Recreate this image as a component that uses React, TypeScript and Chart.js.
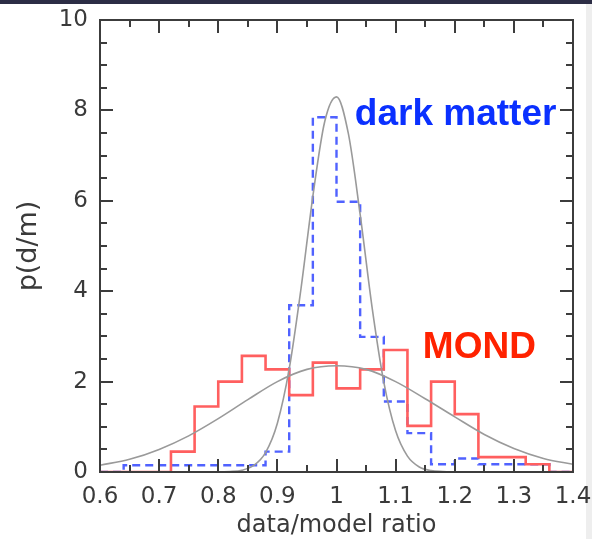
import React, { useEffect, useRef } from "react";
import { Chart, registerables } from "chart.js";

Chart.register(...registerables);

// Histogram bin edges (bin width 0.04) on the data/model ratio axis
const binEdges = [
  0.6, 0.64, 0.68, 0.72, 0.76, 0.8, 0.84, 0.88, 0.92, 0.96, 1.0,
  1.04, 1.08, 1.12, 1.16, 1.2, 1.24, 1.28, 1.32, 1.36, 1.4,
];

// Probability density per bin
const mondHist = [
  0, 0, 0, 0.45, 1.45, 2.0, 2.57, 2.27, 1.7, 2.42,
  1.85, 2.27, 2.7, 1.02, 2.0, 1.28, 0.33, 0.33, 0.17, 0,
];
const darkMatterHist = [
  0, 0.15, 0.15, 0.15, 0.15, 0.15, 0.15, 0.45, 3.69, 7.85,
  5.98, 2.99, 1.56, 0.86, 0.17, 0.3, 0.17, 0.17, 0.17, 0,
];

// Narrow model curve
const narrowX = [
  0.6, 0.8, 0.82, 0.84, 0.86, 0.88, 0.9, 0.92, 0.94, 0.96, 0.98, 1.0,
  1.02, 1.04, 1.06, 1.08, 1.1, 1.12, 1.14, 1.16, 1.18, 1.2, 1.4,
];
const narrowY = [
  0, 0, 0.01, 0.04, 0.145, 0.43, 1.08, 2.28, 4.06, 6.1, 7.75, 8.3,
  7.49, 5.7, 3.66, 1.99, 0.91, 0.35, 0.11, 0.03, 0.01, 0, 0,
];

// Broad model curve
const wideX = [
  0.6, 0.65, 0.7, 0.75, 0.8, 0.85, 0.9, 0.95, 1.0,
  1.05, 1.1, 1.15, 1.2, 1.25, 1.3, 1.35, 1.4,
];
const wideY = [
  0.15, 0.28, 0.5, 0.8, 1.18, 1.6, 2.0, 2.27, 2.35,
  2.27, 2.0, 1.62, 1.22, 0.83, 0.52, 0.3, 0.17,
];

const xTickStep = 0.1;
const xMinorStep = 0.05;
const yTickStep = 2;
const yMinorStep = 0.5;

const TEXT_COLOR = "#3a3a3a";
const AXIS_COLOR = "#3c3c3c";

// Each bin value starts at its left edge; the last edge closes the final bin
const stepPoints = (hist: number[]) =>
  binEdges.map((x, i) => ({ x, y: i < hist.length ? hist[i] : hist[hist.length - 1] }));

const curvePoints = (xs: number[], ys: number[]) => xs.map((x, i) => ({ x, y: ys[i] }));

const pageDecor = {
  id: "pageDecor",
  beforeDraw(chart: any) {
    const { ctx, width, height } = chart;
    ctx.save();
    ctx.fillStyle = "#ffffff";
    ctx.fillRect(0, 0, width, height);
    ctx.fillStyle = "#eeeeee";
    ctx.fillRect(586, 0, width - 586, height);
    ctx.fillStyle = "#2c2d45";
    ctx.fillRect(0, 0, width, 4);
    ctx.restore();
  },
};

const frameAndTicks = {
  id: "frameAndTicks",
  afterDatasetsDraw(chart: any) {
    const { ctx, chartArea, scales } = chart;
    const { left, right, top, bottom } = chartArea;
    const xs = scales.x;
    const ys = scales.y;
    ctx.save();
    ctx.strokeStyle = AXIS_COLOR;
    ctx.lineWidth = 2;
    ctx.strokeRect(left, top, right - left, bottom - top);
    ctx.beginPath();
    const nx = Math.round((xs.max - xs.min) / xMinorStep);
    for (let i = 1; i < nx; i++) {
      const v = xs.min + i * xMinorStep;
      const len = i % Math.round(xTickStep / xMinorStep) === 0 ? 13 : 7;
      const px = Math.round(xs.getPixelForValue(v));
      ctx.moveTo(px, bottom);
      ctx.lineTo(px, bottom - len);
      ctx.moveTo(px, top);
      ctx.lineTo(px, top + len);
    }
    const ny = Math.round((ys.max - ys.min) / yMinorStep);
    for (let i = 1; i < ny; i++) {
      const v = ys.min + i * yMinorStep;
      const len = i % Math.round(yTickStep / yMinorStep) === 0 ? 13 : 7;
      const py = Math.round(ys.getPixelForValue(v));
      ctx.moveTo(left, py);
      ctx.lineTo(left + len, py);
      ctx.moveTo(right, py);
      ctx.lineTo(right - len, py);
    }
    ctx.stroke();
    ctx.restore();
  },
  afterDraw(chart: any) {
    const { ctx, scales } = chart;
    ctx.save();
    ctx.textAlign = "left";
    ctx.textBaseline = "alphabetic";
    ctx.font = 'bold 37px "Liberation Sans", Arial, sans-serif';
    ctx.fillStyle = "#0a30ff";
    ctx.fillText("dark matter", scales.x.getPixelForValue(1.031), scales.y.getPixelForValue(7.68));
    ctx.fillStyle = "#ff2200";
    ctx.fillText("MOND", scales.x.getPixelForValue(1.146), scales.y.getPixelForValue(2.52));
    ctx.restore();
  },
};

export default function App() {
  const canvasRef = useRef<HTMLCanvasElement | null>(null);

  useEffect(() => {
    if (!canvasRef.current) return;
    const chart = new Chart(canvasRef.current, {
      type: "line",
      data: {
        datasets: [
          {
            data: curvePoints(wideX, wideY),
            borderColor: "#9a9a9a",
            borderWidth: 1.6,
            pointRadius: 0,
            cubicInterpolationMode: "monotone",
            fill: false,
          },
          {
            data: curvePoints(narrowX, narrowY),
            borderColor: "#9a9a9a",
            borderWidth: 1.6,
            pointRadius: 0,
            cubicInterpolationMode: "monotone",
            fill: false,
          },
          {
            data: stepPoints(mondHist),
            borderColor: "#ff5f5f",
            borderWidth: 2.6,
            pointRadius: 0,
            stepped: "before",
            fill: false,
          },
          {
            data: stepPoints(darkMatterHist),
            borderColor: "#5062ff",
            borderWidth: 2.4,
            borderDash: [8, 5],
            pointRadius: 0,
            stepped: "before",
            fill: false,
          },
        ],
      } as any,
      options: {
        responsive: false,
        animation: false,
        layout: { padding: { top: 20, right: 19, left: 0, bottom: 0 } },
        plugins: { legend: { display: false }, tooltip: { enabled: false } },
        scales: {
          x: {
            type: "linear",
            min: 0.6,
            max: 1.4,
            grid: { display: false, drawTicks: false },
            border: { display: false },
            ticks: {
              stepSize: xTickStep,
              padding: 11,
              autoSkip: false,
              maxRotation: 0,
              color: TEXT_COLOR,
              font: { family: '"DejaVu Sans"', size: 23 },
              callback: (v: any) => String(Number(Number(v).toFixed(2))),
            },
            title: {
              display: true,
              text: "data/model ratio",
              color: TEXT_COLOR,
              font: { family: '"DejaVu Sans"', size: 24, lineHeight: 1 },
              padding: { top: 0, bottom: 1 },
            },
            afterFit: (s: any) => {
              s.height = 67;
              s.paddingLeft = 0;
              s.paddingRight = 0;
            },
          },
          y: {
            min: 0,
            max: 10,
            grid: { display: false, drawTicks: false },
            border: { display: false },
            ticks: {
              stepSize: yTickStep,
              padding: 12,
              color: TEXT_COLOR,
              font: { family: '"DejaVu Sans"', size: 23 },
            },
            title: {
              display: true,
              text: "p(d/m)",
              color: TEXT_COLOR,
              font: { family: '"DejaVu Sans"', size: 27, lineHeight: 1 },
              padding: { top: 15, bottom: 0 },
            },
            afterFit: (s: any) => {
              s.width = 100;
              s.paddingTop = 0;
              s.paddingBottom = 0;
            },
          },
        },
      } as any,
      plugins: [pageDecor, frameAndTicks],
    });
    return () => chart.destroy();
  }, []);

  return (
    <div style={{ position: "fixed", left: 0, top: 0, width: 592, height: 539, background: "#fff" }}>
      <canvas ref={canvasRef} width={592} height={539} style={{ display: "block" }} />
    </div>
  );
}
